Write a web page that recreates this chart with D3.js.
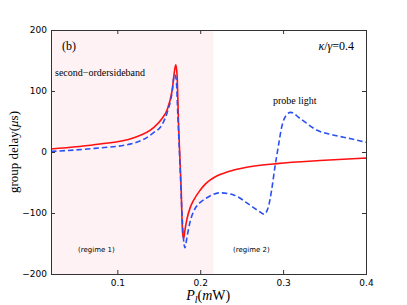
<!DOCTYPE html>
<html>
<head>
<meta charset="utf-8">
<script src="https://cdn.jsdelivr.net/npm/d3@7"></script>
<style>
  body { margin: 0; background: #fff; }
  text { fill: #000; }
  .tick text { font-family: "DejaVu Sans", sans-serif; font-size: 9px; }
  .serif { font-family: "Liberation Serif", "DejaVu Serif", serif; }
</style>
</head>
<body>
<svg id="chart"></svg>
<script>
// pump power (mW) and group delay (us)
var pRed = [0.02, 0.079, 0.119, 0.143, 0.154, 0.160, 0.166, 0.1696, 0.1705, 0.172, 0.174, 0.177,
            0.1786, 0.180, 0.1816, 0.184, 0.1877, 0.1925, 0.1997, 0.2058, 0.2118, 0.2178, 0.2239,
            0.2395, 0.266, 0.2926, 0.3445, 0.40];
var redDelay = [5, 13, 23, 39, 55, 69, 100, 138, 143, 128, 40, -60,
                -130, -142, -128, -110, -92, -78, -63, -53, -46, -41, -37,
                -30, -23, -19, -14, -10];

var pBlue = [0.02, 0.073, 0.119, 0.143, 0.154, 0.160, 0.166, 0.169, 0.171, 0.173, 0.1756, 0.178,
             0.1804, 0.1816, 0.184, 0.1877, 0.1937, 0.1997, 0.2058, 0.2118, 0.2239, 0.2395, 0.260, 0.2697,
             0.277, 0.2818, 0.2862, 0.2902, 0.2942, 0.2983, 0.3043, 0.3092, 0.3204, 0.3405, 0.3602, 0.3805, 0.40];
var blueDelay = [1, 6, 14, 31, 45, 64, 97, 127, 120, 60, -20, -100,
                 -150, -157, -140, -115, -93, -83, -77, -72, -67, -70, -87, -96,
                 -102, -92, -62, -24, 9, 41, 61, 65, 55, 36, 28, 22, 16];

var xTicks = [0.1, 0.2, 0.3, 0.4];
var yTicks = [-200, -100, 0, 100, 200];
var regime1End = 0.216;

var W = 407, H = 305;
var margin = {top: 30, right: 41, bottom: 31, left: 51};
var width = W - margin.left - margin.right,
    height = H - margin.top - margin.bottom;

var svg = d3.select("#chart").attr("width", W).attr("height", H);
var g = svg.append("g").attr("transform", "translate(" + margin.left + "," + margin.top + ")");

var x = d3.scaleLinear().domain([0.02, 0.4]).range([0, width]);
var y = d3.scaleLinear().domain([-200, 200]).range([height, 0]);

// shaded regime 1
g.append("rect")
    .attr("x", x(0.02))
    .attr("y", 0)
    .attr("width", x(regime1End) - x(0.02))
    .attr("height", height)
    .attr("fill", "#fef2f5");

g.append("defs").append("clipPath").attr("id", "clip")
  .append("rect").attr("width", width).attr("height", height);

var line = d3.line()
    .x(function(d) { return x(d[0]); })
    .y(function(d) { return y(d[1]); })
    .curve(d3.curveMonotoneX);

g.append("path")
    .datum(d3.zip(pRed, redDelay))
    .attr("clip-path", "url(#clip)")
    .attr("d", line)
    .attr("fill", "none")
    .attr("stroke", "#ff1010")
    .attr("stroke-width", 1.6);

g.append("path")
    .datum(d3.zip(pBlue, blueDelay))
    .attr("clip-path", "url(#clip)")
    .attr("d", line)
    .attr("fill", "none")
    .attr("stroke", "#2a50f5")
    .attr("stroke-width", 1.6)
    .attr("stroke-dasharray", "5.5,3");

// axes, ticks pointing inward like matplotlib
g.append("g")
    .attr("class", "x axis")
    .attr("transform", "translate(0," + height + ")")
    .call(d3.axisBottom(x).tickValues(xTicks).tickSize(-4).tickPadding(6).tickFormat(d3.format(".1f")));
g.append("g")
    .attr("class", "x axis")
    .call(d3.axisTop(x).tickValues(xTicks).tickSize(-4).tickFormat(""));
g.append("g")
    .attr("class", "y axis")
    .call(d3.axisLeft(y).tickValues(yTicks).tickSize(-4).tickPadding(4).tickFormat(function(d) {
        return d < 0 ? "\u2212" + Math.abs(d) : d;
    }));
g.append("g")
    .attr("class", "y axis")
    .attr("transform", "translate(" + width + ",0)")
    .call(d3.axisRight(y).tickValues(yTicks).tickSize(-4).tickFormat(""));

g.selectAll(".axis path").attr("stroke", "#333").attr("stroke-width", 1);
g.selectAll(".axis line").attr("stroke", "#333");

// annotations
g.append("text").attr("class", "serif").attr("x", 11).attr("y", 20)
    .style("font-size", "12px").text("(b)");

var kap = g.append("text").attr("class", "serif").attr("x", width - 12).attr("y", 20)
    .attr("text-anchor", "end").style("font-size", "12px");
kap.append("tspan").style("font-style", "italic").text("\u03ba");
kap.append("tspan").text("/");
kap.append("tspan").style("font-style", "italic").text("\u03b3");
kap.append("tspan").text("=0.4");

g.append("text").attr("class", "serif").attr("x", 4).attr("y", 46)
    .style("font-size", "10px").text("second\u2212ordersideband");

g.append("text").attr("class", "serif").attr("x", 222).attr("y", 74)
    .style("font-size", "10px").text("probe light");

g.append("text").attr("x", 27).attr("y", 222)
    .style("font-family", "DejaVu Sans, sans-serif").style("font-size", "7px").text("(regime 1)");
g.append("text").attr("x", 182).attr("y", 222)
    .style("font-family", "DejaVu Sans, sans-serif").style("font-size", "7px").text("(regime 2)");

// axis labels
var xl = svg.append("text").attr("class", "serif")
    .attr("x", margin.left + x(0.2) + 8).attr("y", 300)
    .attr("text-anchor", "middle").style("font-size", "14px");
xl.append("tspan").style("font-style", "italic").text("P");
xl.append("tspan").style("font-style", "italic").style("font-size", "10px").attr("dy", 3).text("l");
xl.append("tspan").attr("dy", -3).text("(");
xl.append("tspan").style("font-style", "italic").text("m");
xl.append("tspan").text("W)");

var yl = svg.append("text").attr("class", "serif")
    .attr("transform", "translate(18," + (margin.top + height / 2) + ") rotate(-90)")
    .attr("text-anchor", "middle").style("font-size", "13px");
yl.append("tspan").text("group delay(");
yl.append("tspan").style("font-style", "italic").text("\u03bc");
yl.append("tspan").text("s)");
</script>
</body>
</html>
